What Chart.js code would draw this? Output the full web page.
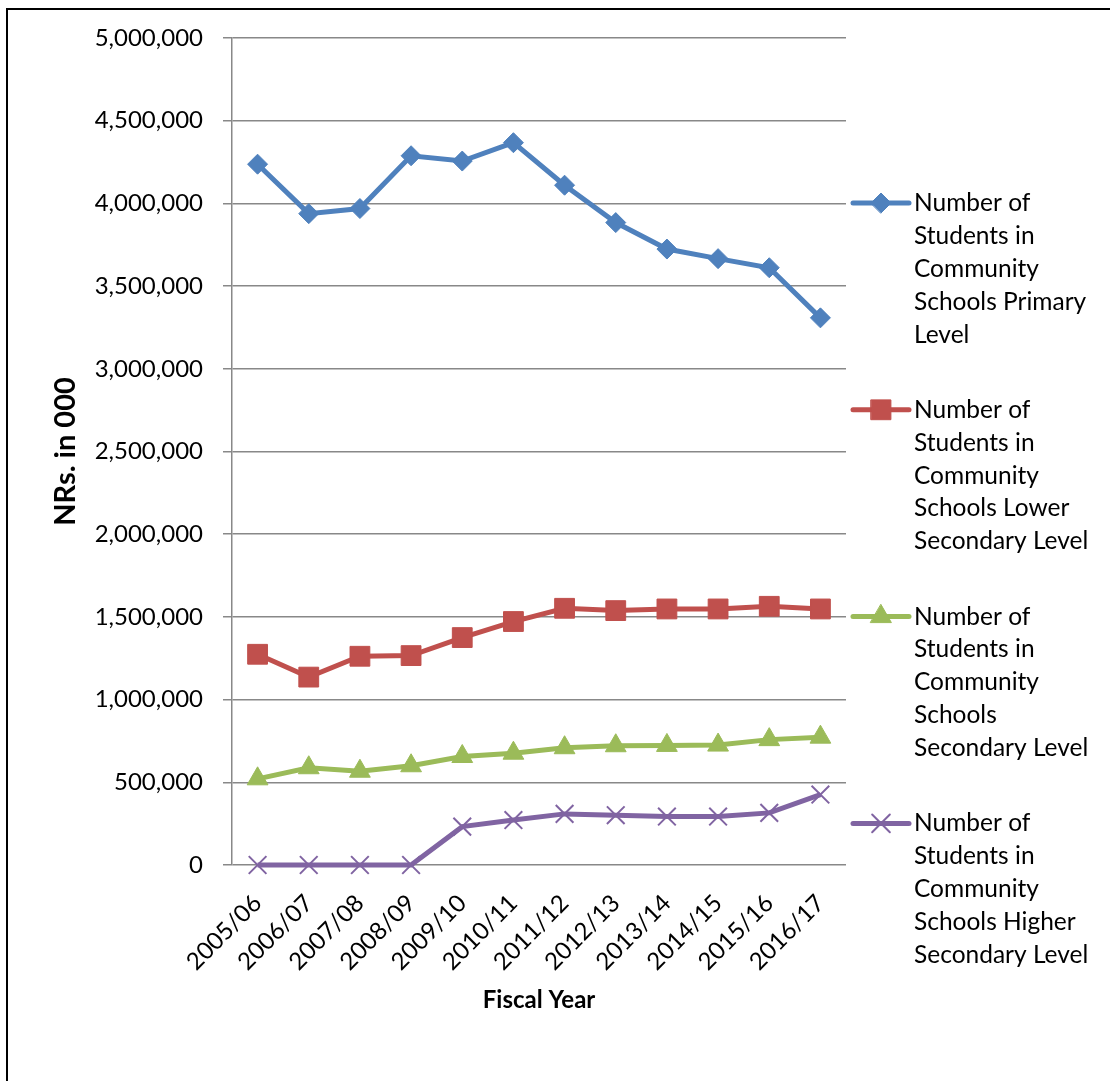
<!DOCTYPE html>
<html>
<head>
<meta charset="utf-8">
<script src="https://cdn.jsdelivr.net/npm/chart.js@4/dist/chart.umd.min.js"></script>
<style>
    html, body { margin: 0; padding: 0; background: #fff; overflow: hidden; }
    #marco { position: absolute; left: 6px; top: 8px; width: 1200px; height: 1200px; border: 2px solid #000; }
    #grafica { position: absolute; left: 0; top: 0; }
</style>
</head>
<body>
<div id="marco"></div>
<canvas id="grafica" width="1110" height="1081"></canvas>
<script>
// Años fiscales y número de estudiantes por nivel
const anios = ["2005/06", "2006/07", "2007/08", "2008/09", "2009/10", "2010/11",
               "2011/12", "2012/13", "2013/14", "2014/15", "2015/16", "2016/17"];

const primaria = [4237000, 3938000, 3969000, 4288000, 4256000, 4367000,
                  4110000, 3884000, 3724000, 3666000, 3611000, 3308000];
const secundariaBaja = [1274000, 1136000, 1262000, 1266000, 1375000, 1472000,
                        1552000, 1538000, 1548000, 1548000, 1564000, 1548000];
const secundaria = [521000, 588000, 567000, 600000, 656000, 676000,
                    709000, 721000, 723000, 725000, 758000, 773000];
const secundariaAlta = [0, 0, 0, 0, 232000, 272000,
                        309000, 301000, 293000, 293000, 315000, 426000];

// Nombres de las series, ya partidos en renglones para la leyenda
const nombres = [
    ["Number of", "Students in", "Community", "Schools Primary", "Level"],
    ["Number of", "Students in", "Community", "Schools Lower", "Secondary Level"],
    ["Number of", "Students in", "Community", "Schools", "Secondary Level"],
    ["Number of", "Students in", "Community", "Schools Higher", "Secondary Level"]
];

const ejeY = { min: 0, max: 5000000, paso: 500000 };

const FUENTE = "Lato, 'Open Sans', sans-serif";

function serie(i, datos, color, estilo, radio, bordePunto) {
    return {
        label: nombres[i].join(" "),
        data: datos,
        borderColor: color,
        backgroundColor: color,
        borderWidth: 5,
        pointStyle: estilo,
        pointRadius: radio,
        pointHoverRadius: radio,
        pointBackgroundColor: color,
        pointBorderColor: color,
        pointBorderWidth: bordePunto,
        tension: 0,
        clip: false
    };
}

// Leyenda a la derecha, con etiquetas de varios renglones
const leyendaMultilinea = {
    id: "leyendaMultilinea",
    afterDraw(chart, args, opts) {
        const ctx = chart.ctx;
        const area = chart.chartArea;
        ctx.save();
        ctx.font = opts.font;
        ctx.textBaseline = "middle";
        ctx.textAlign = "left";
        chart.data.datasets.forEach((ds, i) => {
            const y0 = area.top + opts.primerRenglon + i * opts.separacion;
            const x0 = area.right + opts.margen;
            // línea de muestra
            ctx.strokeStyle = ds.borderColor;
            ctx.lineWidth = ds.borderWidth;
            ctx.lineCap = "round";
            ctx.beginPath();
            ctx.moveTo(x0, y0);
            ctx.lineTo(x0 + opts.largoLinea, y0);
            ctx.stroke();
            // marcador
            ctx.fillStyle = ds.pointBackgroundColor;
            ctx.strokeStyle = ds.pointBorderColor;
            ctx.lineWidth = ds.pointBorderWidth;
            Chart.helpers.drawPoint(ctx, {
                pointStyle: ds.pointStyle,
                radius: ds.pointRadius,
                rotation: 0,
                borderWidth: ds.pointBorderWidth
            }, x0 + opts.largoLinea / 2, y0);
            // texto
            ctx.fillStyle = "#000";
            nombres[i].forEach((linea, j) => {
                ctx.fillText(linea, x0 + opts.largoLinea + opts.espacioTexto, y0 + j * opts.altoRenglon);
            });
        });
        ctx.restore();
    }
};

const ctx = document.getElementById("grafica").getContext("2d");

new Chart(ctx, {
    type: "line",
    data: {
        labels: anios,
        datasets: [
            serie(0, primaria, "#4F81BD", "rectRot", 10, 1),
            serie(1, secundariaBaja, "#C0504D", "rect", 14, 1),
            serie(2, secundaria, "#9BBB59", "triangle", 12, 1),
            serie(3, secundariaAlta, "#8064A2", "crossRot", 12.5, 2)
        ]
    },
    options: {
        responsive: false,
        animation: false,
        devicePixelRatio: 1,
        layout: { padding: { left: 0, top: 38, right: 264, bottom: 66 } },
        plugins: {
            legend: { display: false },
            tooltip: { enabled: false },
            leyendaMultilinea: {
                font: "24.5px " + FUENTE,
                margen: 7,
                largoLinea: 56,
                espacioTexto: 5,
                primerRenglon: 165,
                separacion: 206.8,
                altoRenglon: 32.9
            }
        },
        scales: {
            x: {
                offset: true,
                grid: { display: false, drawTicks: false },
                border: { display: false },
                ticks: {
                    color: "#000",
                    font: { family: FUENTE, size: 24 },
                    minRotation: 45,
                    maxRotation: 45,
                    padding: 24,
                    autoSkip: false
                },
                title: {
                    display: true,
                    text: "Fiscal Year",
                    color: "#000",
                    font: { family: FUENTE, size: 24, weight: "bold" },
                    padding: { top: 0, bottom: 0 }
                },
                afterFit(scale) { scale.height = 150; }
            },
            y: {
                min: ejeY.min,
                max: ejeY.max,
                grid: { color: "#888", lineWidth: 1.5, tickLength: 9, drawTicks: true },
                border: { display: true, color: "#888", width: 1.5 },
                ticks: {
                    stepSize: ejeY.paso,
                    color: "#000",
                    padding: 20,
                    font: { family: FUENTE, size: 24 },
                    callback: v => v.toLocaleString("en-US")
                },
                title: {
                    display: true,
                    text: "NRs. in 000",
                    color: "#000",
                    font: { family: FUENTE, size: 29, weight: "bold" },
                    padding: { top: 48, bottom: 0 }
                },
                afterFit(scale) { scale.width = 232; }
            }
        }
    },
    plugins: [leyendaMultilinea]
});
</script>
</body>
</html>
